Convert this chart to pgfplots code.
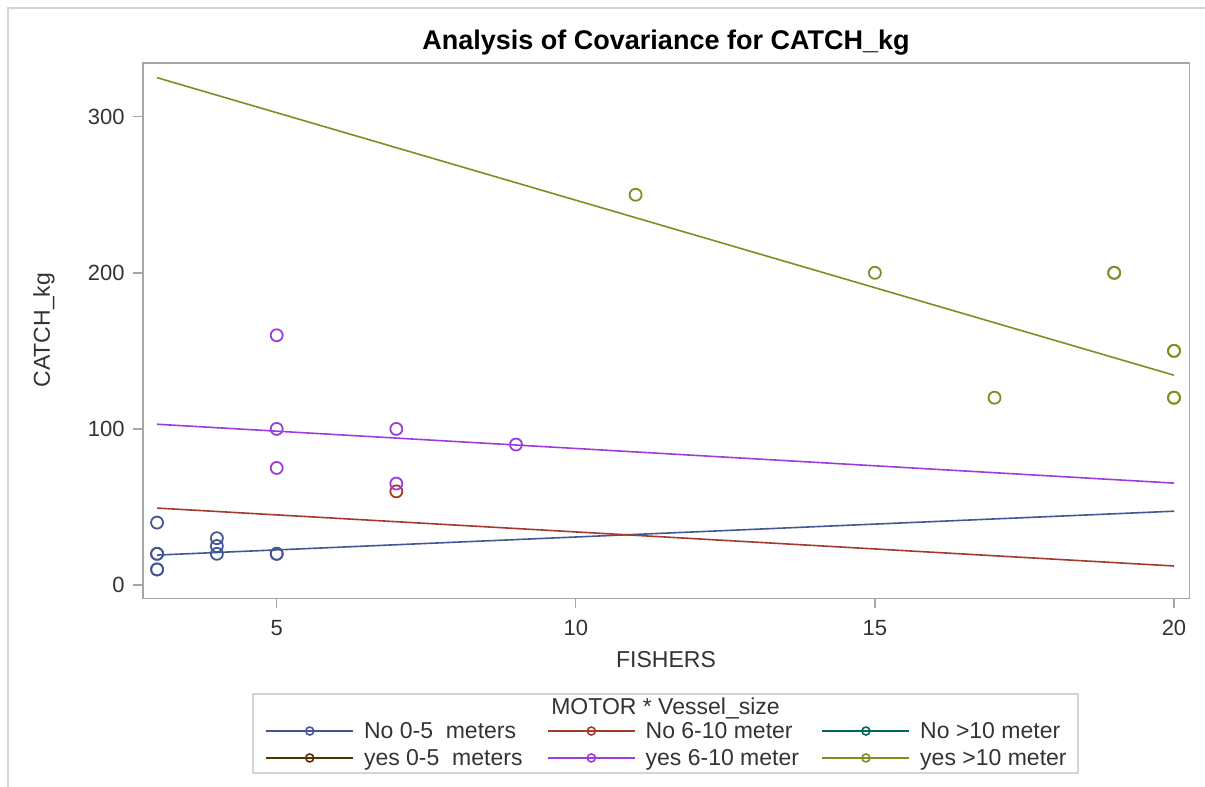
\documentclass[border=0pt]{standalone}
\usepackage{pgfplots}
\pgfplotsset{compat=1.18}
\usepackage{fontspec}
\setmainfont{Liberation Sans}
\definecolor{cA}{HTML}{445694}
\definecolor{cB}{HTML}{A23A2E}
\definecolor{cC}{HTML}{01665E}
\definecolor{cD}{HTML}{543005}
\definecolor{cE}{HTML}{9D3CDB}
\definecolor{cF}{HTML}{7F8E1F}
\definecolor{framegray}{HTML}{A3A6AB}
\definecolor{textgray}{HTML}{333333}
\definecolor{bordergray}{HTML}{D4D4D4}
\begin{document}
\begin{tikzpicture}
\useasboundingbox (0,0) rectangle (602.5pt,-393.5pt);
\draw[bordergray, line width=0.8pt] (4pt,-393.5pt) -- (4pt,-4pt) -- (602.5pt,-4pt);
\begin{axis}[
  at={(71.35pt,-299.15pt)}, anchor=south west,
  scale only axis, width=523.3pt, height=267.65pt,
  xmin=2.76, xmax=20.256, ymin=-8.5, ymax=334.4,
  xtick={5,10,15,20}, ytick={0,100,200,300},
  xtick pos=lower, ytick pos=left,
  tick align=outside, major tick length=5pt,
  axis line style={framegray, line width=0.8pt},
  every tick/.style={framegray, line width=0.7pt},
  tick label style={font=\fontsize{11}{13}\selectfont, color=textgray},
  xticklabel style={yshift=-2.5pt},
  yticklabel style={xshift=-0.5pt},
  /pgf/number format/assume math mode=true,
  xlabel={FISHERS}, ylabel={CATCH\_kg},
  label style={font=\fontsize{11.5}{13.5}\selectfont, color=textgray},
  xlabel style={at={(axis description cs:0.5,-0.1153)}, anchor=center},
  ylabel style={at={(axis description cs:-0.0943,0.501)}, anchor=center, rotate=0},
  legend columns=3,
  legend cell align=left,
  legend image code/.code={\draw[mark repeat=2,mark phase=2,#1] plot coordinates {(0pt,0pt) (21.75pt,0pt) (43.5pt,0pt)};},
  legend style={at={(axis description cs:0.1169,-0.2731)}, anchor=west,
    draw=none, fill=none, inner sep=0pt,
    font=\fontsize{11.5}{13.5}\selectfont, text=textgray,
    column sep=0pt, row sep=2.5pt,
    /tikz/every odd column/.append style={column sep=5pt},
    nodes={inner xsep=0pt, inner ysep=0pt}},
]
% regression lines
\addplot[cA, line width=0.8pt, forget plot] coordinates {(3,19.2) (20,47.3)};
\addplot[cB, line width=0.8pt, forget plot] coordinates {(3,49.3) (20,12.2)};
\addplot[cE, line width=0.8pt, forget plot] coordinates {(3,103) (20,65.3)};
\addplot[cF, line width=0.8pt, forget plot] coordinates {(3,325) (20,134.4)};
% observations
\addplot[cA, only marks, mark=o, mark size=3pt, mark options={line width=0.9pt}, forget plot]
  coordinates {(3,40) (3,20) (3,20) (3,10) (3,10) (4,30) (4,25) (4,20) (5,20) (5,20)};
\addplot[cB, only marks, mark=o, mark size=3pt, mark options={line width=0.9pt}, forget plot]
  coordinates {(7,60)};
\addplot[cE, only marks, mark=o, mark size=3pt, mark options={line width=0.9pt}, forget plot]
  coordinates {(5,160) (5,100) (5,75) (7,100) (7,65) (9,90)};
\addplot[cF, only marks, mark=o, mark size=3pt, mark options={line width=0.9pt}, forget plot]
  coordinates {(11,250) (15,200) (19,200) (19,200) (17,120) (20,150) (20,150) (20,120) (20,120)};
% legend entries
\addlegendimage{cA, line width=0.8pt, mark=o, mark size=2pt, mark options={line width=0.8pt}}
\addlegendentry{\makebox[91.5pt][l]{\strut No 0-5\ \ meters}}
\addlegendimage{cB, line width=0.8pt, mark=o, mark size=2pt, mark options={line width=0.8pt}}
\addlegendentry{\makebox[88pt][l]{\strut No 6-10 meter}}
\addlegendimage{cC, line width=0.8pt, mark=o, mark size=2pt, mark options={line width=0.8pt}}
\addlegendentry{\strut No >10 meter}
\addlegendimage{cD, line width=0.8pt, mark=o, mark size=2pt, mark options={line width=0.8pt}}
\addlegendentry{\makebox[91.5pt][l]{\strut yes 0-5\ \ meters}}
\addlegendimage{cE, line width=0.8pt, mark=o, mark size=2pt, mark options={line width=0.8pt}}
\addlegendentry{\makebox[88pt][l]{\strut yes 6-10 meter}}
\addlegendimage{cF, line width=0.8pt, mark=o, mark size=2pt, mark options={line width=0.8pt}}
\addlegendentry{\strut yes >10 meter}
\end{axis}
\node[font=\fontsize{13.5}{16}\selectfont\bfseries, text=black] at (333pt,-21.25pt) {Analysis of Covariance for CATCH\_kg};
\draw[bordergray, line width=0.8pt] (126.5pt,-347pt) rectangle (539pt,-386.5pt);
\node[font=\fontsize{11.5}{13.5}\selectfont, text=textgray] at (332.75pt,-354pt) {MOTOR * Vessel\_size};
\end{tikzpicture}
\end{document}
